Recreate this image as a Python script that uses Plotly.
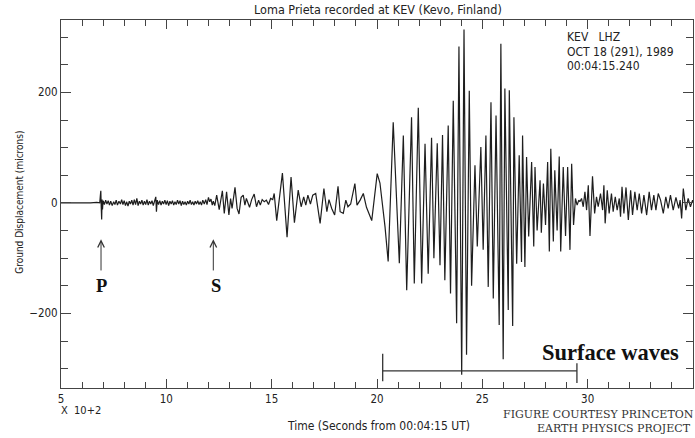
import plotly.graph_objects as go

# ---------------- data ----------------
# time in units of 10^2 s from 00:04:15 UT, displacement in microns
time_pre = [5.00, 5.60, 6.00, 6.40, 6.70, 6.84, 6.87, 6.89, 6.91, 6.93, 6.95, 6.97, 7.00]
disp_pre = [0, 0, -1, 0, 1, 0, 14, 22, -8, -30, 6, -12, 4]

time_p_coda = [7.06, 7.12, 7.18, 7.24, 7.30, 7.36, 7.43, 7.50, 7.56, 7.62, 7.68, 7.75, 7.82, 7.88,
               7.94, 8.00, 8.06, 8.12, 8.18, 8.24, 8.30, 8.36, 8.42, 8.48, 8.54, 8.60, 8.66, 8.72,
               8.78, 8.84, 8.90, 8.96, 9.02, 9.08, 9.14, 9.20, 9.26, 9.32, 9.38, 9.44, 9.50, 9.53,
               9.57, 9.63, 9.69, 9.75, 9.81, 9.87, 9.93, 9.99, 10.05, 10.11, 10.17, 10.23, 10.29,
               10.35, 10.41, 10.47, 10.53, 10.59, 10.65, 10.71, 10.77, 10.83, 10.89, 10.95, 11.01,
               11.07, 11.13, 11.19, 11.25, 11.31, 11.37, 11.43, 11.49, 11.55, 11.61, 11.67, 11.73,
               11.80, 11.87, 11.93, 12.00, 12.06, 12.12, 12.18]
disp_p_coda = [-3, 5, -2, 4, -4, 3, -5, 2, -3, 5, -4, 3, -2, 6,
               -3, 4, -5, 2, -6, 3, -2, 5, -4, 6, -3, 8, -5, 3,
               -2, 5, -4, 3, -3, 6, -4, 3, -2, 4, -5, 3, 11, -16,
               5, -3, 4, -4, 3, -2, 5, -3, 4, -5, 3, -2, 4,
               -4, 2, -3, 5, -2, 4, -5, 3, -3, 2, -4, 3,
               -2, 5, -3, 2, -4, 3, -2, 4, -3, 2, -4, 5,
               -2, 6, -3, 10, 2, 7, -4]

time_s = [12.23, 12.30, 12.39, 12.51, 12.66, 12.75, 12.86, 12.97, 13.05, 13.12, 13.26, 13.36, 13.45,
          13.55, 13.65, 13.73, 13.80, 13.95, 14.05, 14.17, 14.28, 14.38, 14.46, 14.55, 14.65, 14.75,
          14.85, 14.95, 15.05, 15.12, 15.24, 15.51, 15.73, 15.92, 16.08, 16.26, 16.40, 16.52, 16.62,
          16.72, 16.84, 16.95, 17.09, 17.30, 17.48, 17.62, 17.72, 17.85, 17.99, 18.15, 18.25, 18.40,
          18.52, 18.62, 18.75, 18.95, 19.05, 19.20, 19.35, 19.50, 19.75, 20.01, 20.14, 20.38]
disp_s = [3, -5, 14, -12, 22, -19, 20, -22, 8, -10, 28, -10, -20,
          10, 14, -4, 8, -8, 6, 16, -7, 5, -4, 6, 2, 5,
          -3, 8, 6, 17, -32, 54, -62, 47, -36, 23, -7, 11, -4,
          14, -2, 14, 17, -37, 26, -16, 6, -10, -22, 30, -16, -19,
          5, -7, -2, 35, -4, 5, 17, -8, -32, 53, 36, -43]

time_surface = [20.53, 20.77, 21.06, 21.25, 21.41, 21.64, 21.77, 21.96, 22.12, 22.28, 22.43, 22.59,
                22.70, 22.86, 22.99, 23.11, 23.22, 23.38, 23.49, 23.62, 23.78, 23.89, 24.02, 24.13,
                24.25, 24.38, 24.49, 24.65, 24.76, 24.93, 25.04, 25.17, 25.28, 25.41, 25.52, 25.65,
                25.80, 25.88, 25.99, 26.07, 26.23, 26.28, 26.44, 26.50, 26.63, 26.75, 26.86, 26.91,
                27.02, 27.10, 27.20, 27.34, 27.44, 27.50, 27.60, 27.74, 27.80, 27.90, 28.00, 28.10,
                28.18, 28.25, 28.37, 28.44, 28.55, 28.65, 28.72, 28.84, 28.95, 29.05, 29.16, 29.24,
                29.33, 29.42, 29.50, 29.58]
disp_surface = [-106, 146, -109, 122, -158, 155, -146, 172, -146, 107, -128, 118,
                -100, 108, -113, 123, -140, 140, -164, 185, -218, 283, -311, 314,
                -275, 203, -150, 68, -79, 101, -85, 122, -152, 182, -173, 158,
                -221, 288, -283, 207, -194, 204, -223, 155, -110, 86, -107, 122,
                -116, 83, -61, 74, -79, 65, -50, 41, -54, 35, -40, 74,
                -88, 98, -70, 59, -50, 84, -88, 65, -60, 65, -85, 71,
                -40, 8, -4, 5]

time_late = [29.63, 29.71, 29.79, 29.87, 29.95, 30.03, 30.11, 30.23, 30.33, 30.42, 30.50, 30.61,
             30.71, 30.77, 30.83, 30.93, 31.02, 31.13, 31.21, 31.31, 31.40, 31.50, 31.56, 31.63,
             31.72, 31.82, 31.93, 32.04, 32.13, 32.24, 32.35, 32.45, 32.56, 32.67, 32.80, 32.92,
             33.03, 33.14, 33.24, 33.35, 33.46, 33.59, 33.71, 33.82, 33.93, 34.06, 34.19, 34.32,
             34.39, 34.46, 34.54, 34.66, 34.77, 34.88, 34.98, 35.09]
disp_late = [2, 8, -7, 20, -13, 32, -60, 48, -19, 11, -7, 17,
             -13, 32, -37, 23, -19, 17, -16, 11, -13, 8, -25, 29,
             -19, 28, -31, 23, -22, 20, -13, 17, -19, 14, -22, 20,
             -13, 14, -13, 17, 5, -19, 11, -10, 14, -13, 10, -10,
             5, -28, 26, -13, 8, -7, 5, -4]

# annotation anchors (data units)
p_arrival = 6.90
s_arrival = 12.23
surface_window = [20.27, 29.49]
surface_bar_level = -304
surface_left_tick = [-273, -323]
surface_right_tick = [-290, -326]

x_ticks = [5, 10, 15, 20, 25, 30, 35]
y_ticks = [-200, 0, 200]

# ---------------- figure ----------------
t = time_pre + time_p_coda + time_s + time_surface + time_late
u = disp_pre + disp_p_coda + disp_s + disp_surface + disp_late

SANS = "DejaVu Sans Condensed, Liberation Sans Narrow, Arial Narrow, sans-serif"
SERIF = "Liberation Serif, Times New Roman, serif"
WIDE_SERIF = "DejaVu Serif, Liberation Serif, serif"
INK = "#1e1e1e"

fig = go.Figure()
fig.add_trace(go.Scatter(x=t, y=u, mode="lines",
                         line=dict(color=INK, width=1.2), hoverinfo="skip",
                         showlegend=False))

# surface-wave bracket
fig.add_shape(type="line", xref="x", yref="y", x0=surface_window[0], x1=surface_window[1],
              y0=surface_bar_level, y1=surface_bar_level, line=dict(color="#333", width=1.3))
fig.add_shape(type="line", xref="x", yref="y", x0=surface_window[0], x1=surface_window[0],
              y0=surface_left_tick[0], y1=surface_left_tick[1], line=dict(color="#333", width=1.3))
fig.add_shape(type="line", xref="x", yref="y", x0=surface_window[1], x1=surface_window[1],
              y0=surface_right_tick[0], y1=surface_right_tick[1], line=dict(color="#333", width=1.3))

ann = []
# arrows P and S
for xa in (p_arrival, s_arrival):
    ann.append(dict(x=xa, y=-66, ax=xa, ay=-125, xref="x", yref="y", axref="x", ayref="y",
                    text="", showarrow=True, arrowhead=5, arrowsize=1.3, arrowwidth=1,
                    arrowcolor="#333"))
ann.append(dict(x=6.94, y=-150, xref="x", yref="y", text="<b>P</b>", showarrow=False,
                font=dict(family=SERIF, size=18.5, color="#111")))
ann.append(dict(x=12.34, y=-150, xref="x", yref="y", text="<b>S</b>", showarrow=False,
                font=dict(family=SERIF, size=18.5, color="#111")))
ann.append(dict(x=31.1, y=-270, xref="x", yref="y", text="<b>Surface waves</b>", showarrow=False,
                font=dict(family=SERIF, size=22.5, color="#111")))

# station text
for txt, yp in (("KEV\u00a0\u00a0\u00a0LHZ", 0.953), ("OCT 18 (291), 1989", 0.914),
                ("00:04:15.240", 0.876)):
    ann.append(dict(x=0.799, y=yp, xref="paper", yref="paper", xanchor="left", yanchor="middle",
                    text=txt, showarrow=False, borderpad=0,
                    font=dict(family=SANS, size=12, color="#222")))

# titles and footer
ann.append(dict(x=0.502, y=1.029, xref="paper", yref="paper", xanchor="center", yanchor="middle",
                text="Loma Prieta recorded at KEV (Kevo, Finland)", showarrow=False,
                font=dict(family=SANS, size=12.5, color="#222")))
ann.append(dict(x=-0.0649, y=0.506, xref="paper", yref="paper", xanchor="center", yanchor="middle",
                text="Ground Displacement (microns)", textangle=-90, showarrow=False,
                font=dict(family=SANS, size=10, color="#222")))
ann.append(dict(x=-0.002, y=-0.061, xref="paper", yref="paper", xanchor="left", yanchor="middle",
                text="X\u00a0\u00a010+2", showarrow=False, borderpad=0,
                font=dict(family=SANS, size=11, color="#222")))
ann.append(dict(x=0.502, y=-0.104, xref="paper", yref="paper", xanchor="center", yanchor="middle",
                text="Time (Seconds from 00:04:15 UT)", showarrow=False,
                font=dict(family=SANS, size=12, color="#222")))
ann.append(dict(x=0.697, y=-0.071, xref="paper", yref="paper", xanchor="left", yanchor="middle",
                text="FIGURE COURTESY PRINCETON", showarrow=False, borderpad=0,
                font=dict(family=WIDE_SERIF, size=11, color="#333")))
ann.append(dict(x=0.752, y=-0.109, xref="paper", yref="paper", xanchor="left", yanchor="middle",
                text="EARTH PHYSICS PROJECT", showarrow=False, borderpad=0,
                font=dict(family=WIDE_SERIF, size=11, color="#333")))

axis_common = dict(showgrid=False, zeroline=False, showline=True, linecolor="#444", linewidth=1,
                   mirror="allticks", ticks="inside", tickcolor="#444", automargin=False,
                   tickfont=dict(family=SANS, size=11.5, color="#222"))

fig.update_layout(
    template="none",
    width=695, height=438,
    margin=dict(l=61, r=2, t=20, b=50),
    paper_bgcolor="white", plot_bgcolor="white",
    annotations=ann,
    xaxis=dict(range=[5, 35], tickmode="array", tickvals=x_ticks,
               ticktext=[str(v) for v in x_ticks], ticklen=9,
               minor=dict(dtick=1, tick0=5, ticklen=6, ticks="inside", tickcolor="#444"),
               **axis_common),
    yaxis=dict(range=[-335, 331], tickmode="array", tickvals=y_ticks,
               ticktext=["\u2212200", "0", "200"], ticklen=10,
               minor=dict(dtick=50, tick0=0, ticklen=7, ticks="inside", tickcolor="#444"),
               **axis_common),
)

fig.write_html("out.html", config={"displayModeBar": False, "staticPlot": True},
               post_script="document.body.style.margin='0px';document.body.style.overflow='hidden';")
